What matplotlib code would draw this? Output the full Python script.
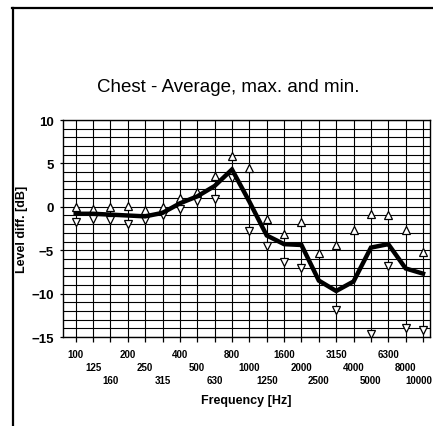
import numpy as np
import matplotlib
matplotlib.use('Agg')
import matplotlib.pyplot as plt
from matplotlib.lines import Line2D

# third-octave bands (Hz)
freqs = ['100', '125', '160', '200', '250', '315', '400', '500', '630', '800',
         '1000', '1250', '1600', '2000', '2500', '3150', '4000', '5000', '6300',
         '8000', '10000']

avg_db = [-0.8, -0.8, -0.9, -1.0, -1.1, -0.7, 0.4, 1.2, 2.4, 4.3,
          0.6, -3.3, -4.3, -4.4, -8.5, -9.7, -8.6, -4.7, -4.3, -7.1, -7.7]
max_db = [0.0, -0.3, 0.0, 0.1, -0.4, 0.0, 1.0, 1.7, 3.6, 5.8,
          4.5, -1.4, -3.1, -1.7, -5.3, -4.4, -2.7, -0.8, -1.0, -2.7, -5.2]
min_db = [-1.7, -1.4, -1.5, -2.0, -1.5, -0.9, -0.3, 0.7, 0.9, 3.3,
          -2.8, -4.5, -6.4, -7.0, np.nan, -11.9, np.nan, -14.6, -6.8, -14.0, -14.2]

plt.rcParams['font.family'] = ['Liberation Sans', 'DejaVu Sans']

fig = plt.figure(figsize=(4.33, 4.27), dpi=100)
ax = fig.add_axes([0.1455, 0.2084, 0.993 - 0.1455, 0.5082])

x = np.arange(len(freqs))
ax.plot(x, max_db, linestyle='none', marker='^', ms=5.5, mfc='white',
        mec='black', mew=0.9, zorder=3)
ax.plot(x, min_db, linestyle='none', marker='v', ms=5.5, mfc='white',
        mec='black', mew=0.9, zorder=3)
ax.plot(x, avg_db, color='black', lw=3.2, solid_joinstyle='miter', zorder=4)

ax.set_xlim(-0.73, 20.4)
ax.set_ylim(-15, 10)

ax.set_xticks(x)
ax.set_xticklabels([])
# staggered frequency labels on three rows
for i, f in enumerate(freqs):
    last = i == len(freqs) - 1
    ax.annotate(f, xy=(i, 0), xycoords=('data', 'axes fraction'),
                xytext=(6.5 if last else 0, -12.5 - 9.4 * (i % 3)),
                textcoords='offset points', ha='right' if last else 'center',
                va='center', fontsize=7, fontweight='bold')

ax.set_yticks(np.arange(-15, 11, 5))
ax.set_yticks(np.arange(-15, 11, 1), minor=True)
for lab in ax.get_yticklabels():
    lab.set_fontsize(9.5)
    lab.set_fontweight('bold')

ax.tick_params(axis='x', direction='out', length=3.5, width=0.9)
ax.tick_params(axis='y', which='major', direction='out', length=2.5, width=0.9, pad=4)
ax.tick_params(axis='y', which='minor', length=0)

ax.grid(axis='x', which='major', color='black', lw=0.8)
ax.grid(axis='y', which='both', color='black', lw=0.8)
ax.set_axisbelow(True)
for sp in ax.spines.values():
    sp.set_color('black')
    sp.set_linewidth(1.0)

ax.set_xlabel('Frequency [Hz]', fontsize=9, fontweight='bold')
ax.xaxis.set_label_coords(0.5, -57 / 217)
ax.set_ylabel('Level diff. [dB]', fontsize=9, fontweight='bold')
ax.yaxis.set_label_coords(-35 / 367, 0.5)

fig.text(228 / 433, 1 - 88 / 427, 'Chest - Average, max. and min.',
         ha='center', va='center', fontsize=13.5)

# scanned page frame (left and top edges only)
fig.add_artist(Line2D([13 / 433, 13 / 433], [0, 1 - 9 / 427], color='black',
                      lw=1.6, transform=fig.transFigure))
fig.add_artist(Line2D([12 / 433, 1], [1 - 9 / 427, 1 - 9 / 427], color='black',
                      lw=1.6, transform=fig.transFigure))

fig.savefig('out.png', dpi=100, facecolor='white')
